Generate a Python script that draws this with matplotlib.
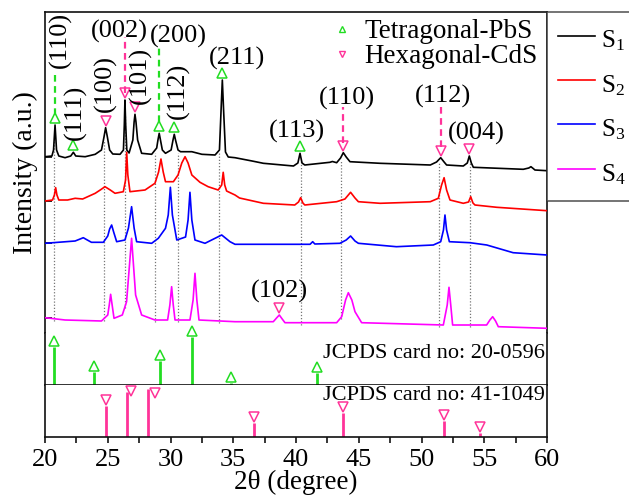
import numpy as np
import matplotlib
matplotlib.use('Agg')
import matplotlib.pyplot as plt
from matplotlib.lines import Line2D
from matplotlib.transforms import offset_copy

plt.rcParams['font.family'] = ['Liberation Serif', 'DejaVu Serif']
plt.rcParams['mathtext.fontset'] = 'custom'
plt.rcParams['mathtext.rm'] = 'Liberation Serif'
plt.rcParams['mathtext.it'] = 'Liberation Serif:italic'

# ---------------- data (stacked intensities, a.u.) ----------------
s1_2theta = [20.0, 20.55, 20.68, 20.8, 20.92, 21.1, 21.6, 22.05, 22.26, 22.45, 23.2, 24.0, 24.5, 24.7,
             24.83, 24.97, 25.15, 25.4, 25.98, 26.25, 26.32, 26.37, 26.43, 26.52, 26.7, 27.0, 27.1, 27.17,
             27.25, 27.38, 27.7, 28.5, 28.9, 29.0, 29.1, 29.2, 29.35, 29.6, 30.05, 30.2, 30.3, 30.4, 30.6,
             30.8, 31.7, 32.5, 33.55, 33.9, 34.03, 34.13, 34.23, 34.38, 34.6, 35.14, 36.5, 37.4, 39.8,
             40.15, 40.32, 40.48, 40.7, 42.7, 42.9, 43.24, 43.55, 43.77, 44.0, 44.3, 46.7, 50.7, 51.2,
             51.53, 51.8, 52.0, 53.33, 53.65, 53.81, 53.97, 54.13, 58.11, 58.55, 58.72, 58.9, 59.04, 60.0]
s1_int = [176.3, 177, 183, 208, 183, 177, 175.3, 177, 180.7, 177, 176.3, 178.7, 183, 196,
          205.3, 196, 183, 179, 178.7, 183, 208, 233, 208, 183, 180, 193, 211, 218.7,
          211, 193, 179.7, 178.7, 185, 193, 199.7, 193, 183, 179.7, 183, 193, 198.7, 193, 183,
          181.3, 181.3, 178.7, 178, 183, 223, 253, 223, 181, 176, 175.3, 172, 169.7, 167,
          170, 179.7, 170, 168, 170.7, 171.5, 170.3, 175, 180.3, 176, 171.3, 169.7, 168, 171,
          175.3, 171, 168, 167, 170, 177, 170, 165.7, 163.7, 165, 166.3, 164.5, 163, 162.3]

s2_2theta = [20.0, 20.6, 20.75, 20.85, 20.95, 21.1, 21.8, 22.4, 23.0, 24.0, 24.4, 24.78, 25.2, 25.58,
             26.24, 26.42, 26.51, 26.6, 26.77, 27.97, 28.76, 29.05, 29.24, 29.42, 29.6, 30.23, 30.6,
             30.9, 31.16, 31.4, 31.7, 32.35, 33.0, 33.8, 34.08, 34.2, 34.32, 34.47, 35.14, 35.5, 37.4,
             39.9, 40.2, 40.37, 40.55, 40.7, 43.24, 43.9, 44.35, 44.7, 44.97, 46.7, 50.7, 51.34, 51.6,
             51.8, 52.0, 52.27, 53.33, 53.75, 53.92, 54.1, 54.26, 56.0, 60.0]
s2_int = [132, 133, 138, 145.3, 138, 133, 133, 134.7, 134, 139.7, 143, 146.3, 143, 139.7,
          141.3, 153, 180.7, 158, 141.3, 143, 149.7, 161, 174, 161, 151.3, 151.3, 158,
          170, 176.3, 170, 158, 150.7, 146.3, 143, 148, 160.7, 148, 142, 138, 135, 129.7,
          128, 131, 135.3, 130, 128, 131.3, 134, 140.7, 135, 131.3, 129.7, 131.3, 134.7, 148,
          155.3, 143, 133, 129.7, 131, 136.3, 130, 128, 125.7, 122.3]

s3_2theta = [20.0, 22.4, 22.8, 23.05, 23.3, 23.7, 24.65, 25.0, 25.15, 25.31, 25.47, 25.71, 26.37, 26.65,
             26.9, 27.1, 27.3, 28.5, 29.03, 29.6, 29.82, 29.99, 30.15, 30.5, 31.2, 31.4, 31.55, 31.7,
             31.95, 32.75, 33.55, 34.08, 34.74, 35.14, 41.12, 41.33, 41.5, 43.5, 44.0, 44.35, 44.7, 44.97,
             48.0, 50.94, 51.53, 51.75, 51.87, 52.0, 52.22, 53.86, 55.2, 57.3, 60.0]
s3_int = [89.7, 92, 94, 95.3, 93.5, 90.7, 90.7, 97, 104, 108, 101, 91.3, 93, 105,
          126.3, 105, 91.3, 89.7, 94.7, 104.7, 118, 145.7, 118, 93, 96, 113, 140.7, 113,
          93, 89.7, 94.7, 98, 91.3, 88.7, 88.7, 91.3, 89, 89.7, 93, 97, 92, 89.7,
          86.3, 88, 91.3, 103, 118, 103, 91.3, 90.3, 88, 80.3, 78]

s4_2theta = [20.0, 21.6, 24.5, 25.0, 25.12, 25.23, 25.35, 25.5, 26.16, 26.5, 26.7, 26.9, 27.05, 27.22,
             27.7, 28.76, 29.77, 29.95, 30.09, 30.22, 30.36, 31.55, 31.8, 31.95, 32.1, 32.27, 35.14,
             38.19, 38.45, 38.67, 38.9, 39.12, 43.24, 43.64, 43.95, 44.17, 44.45, 44.7, 45.23, 51.74,
             52.05, 52.19, 52.33, 52.48, 55.19, 55.45, 55.67, 55.9, 56.12, 60.0]
s4_int = [15.3, 13, 12, 18, 28, 38.7, 28, 14.7, 18, 31.3, 63, 94.7, 68, 38,
          18, 13, 13, 28, 46.3, 28, 13, 13, 33, 59.7, 33, 13, 11.3,
          11.3, 15, 18, 14, 10.3, 10.3, 16.3, 33, 40.3, 33, 21.3, 10.3, 8,
          28, 45.7, 28, 8, 8, 13, 16.3, 12, 6.3, 4.7]

sample_names = ['S$_1$', 'S$_2$', 'S$_3$', 'S$_4$']
sample_colors = ['#000000', '#ff0000', '#0000ff', '#ff00ff']

# phase markers on the patterns
pbs_peaks_s1 = [20.8, 22.26, 29.1, 30.3, 34.13, 40.32]
cds_peaks_s1 = [24.83, 26.37, 27.17, 43.77, 51.53, 53.81]
cds_peaks_s4 = [38.67]
guide_positions = [20.74, 24.7, 26.4, 28.8, 30.6, 33.9, 40.4, 43.6, 51.4, 53.85]

# reference cards
pbs_ref_2theta = [20.74, 23.93, 29.16, 31.69, 34.83, 41.65]
pbs_ref_int = [79, 27, 50, 100, 4, 25]
cds_ref_2theta = [24.86, 26.56, 28.24, 36.68, 43.72, 51.82, 54.66]
cds_ref_int = [64, 93, 100, 29, 50, 33, 8]

# hkl annotations: text, x, y, rotation
hkl_labels = [('(110)', 21.25, 293, 90), ('(111)', 22.4, 221, 90), ('(100)', 24.78, 250, 90),
              ('(002)', 25.9, 302, 0), ('(101)', 27.57, 258, 90), ('(200)', 30.6, 297, 0),
              ('(112)', 30.6, 242, 90), ('(211)', 35.3, 275, 0), ('(113)', 40.1, 202, 0),
              ('(110)', 44.06, 235, 0), ('(112)', 51.7, 237, 0), ('(004)', 54.4, 200, 0),
              ('(102)', 38.7, 42, 0)]
# dashed connectors: x, top, bottom, phase
connectors = [(20.8, 258, 218, 'PbS'), (26.37, 296, 240, 'CdS'), (29.1, 285, 211, 'PbS'),
              (43.77, 226, 190, 'CdS'), (51.53, 230, 186, 'CdS')]

GREEN = '#22dd22'
PINK = '#ff3399'

# ---------------- figure ----------------
fig = plt.figure(figsize=(6.29, 4.96), dpi=100)
W, H = 629, 496
def box(x0, y0, x1, y1):
    return [x0 / W, 1 - y1 / H, (x1 - x0) / W, (y1 - y0) / H]

ax = fig.add_axes(box(45, 12, 547, 333))
axm = fig.add_axes(box(45, 333, 547, 385))
axb = fig.add_axes(box(45, 385, 547, 437))

for a in (ax, axm, axb):
    a.set_xlim(20, 60)
    for s in a.spines.values():
        s.set_linewidth(1.2)
        s.set_color('#111111')

series = [(s1_2theta, s1_int), (s2_2theta, s2_int), (s3_2theta, s3_int), (s4_2theta, s4_int)]
lines = []
for (tt, ii), c, n in zip(series, sample_colors, sample_names):
    ln, = ax.plot(tt, ii, color=c, lw=1.2, label=n, zorder=3)
    lines.append(ln)

ax.set_ylim(0, 321)
ax.spines['bottom'].set_visible(False)
ax.tick_params(axis='x', bottom=False, labelbottom=False)
starts = [ii[0] for _, ii in series]
order = np.argsort(starts)
ax.set_yticks([starts[i] for i in order])
ax.tick_params(axis='y', direction='in', length=5, width=1.2, labelleft=False)
for tk, i in zip(ax.yaxis.get_major_ticks(), order):
    tk.tick1line.set_color(sample_colors[i])

# guide lines
s1t, s1i = np.array(s1_2theta), np.array(s1_int)
s4t, s4i = np.array(s4_2theta), np.array(s4_int)
for g in guide_positions:
    ax.plot([g, g], [np.interp(g, s4t, s4i) - 2, np.interp(g, s1t, s1i) - 3],
            ls=(0, (1, 1.5)), color='#777777', lw=0.9, zorder=1)

# phase markers
up = offset_copy(ax.transData, fig=fig, x=0, y=5, units='points')
for p in pbs_peaks_s1:
    ax.plot([p], [np.interp(p, s1t, s1i)], marker='^', ls='none', mfc='none', mec=GREEN,
            ms=7, mew=1.1, transform=up, zorder=4, clip_on=False)
for p in cds_peaks_s1:
    ax.plot([p], [np.interp(p, s1t, s1i)], marker='v', ls='none', mfc='none', mec=PINK,
            ms=7, mew=1.1, transform=up, zorder=4, clip_on=False)
for p in cds_peaks_s4:
    ax.plot([p], [np.interp(p, s4t, s4i)], marker='v', ls='none', mfc='none', mec=PINK,
            ms=7, mew=1.1, transform=up, zorder=4, clip_on=False)

for x, ytop, ybot, ph in connectors:
    ax.plot([x, x], [ybot, ytop], ls=(0, (3, 2)), lw=1.6, color=GREEN if ph == 'PbS' else PINK, zorder=2)

for txt, x, y, rot in hkl_labels:
    ax.text(x, y, txt, rotation=rot, ha='center', va='center', fontsize=19, zorder=5)

ax.set_ylabel('Intensity (a.u.)', fontsize=20, labelpad=5)

# phase legend inside
ph_handles = [Line2D([], [], marker='^', ls='none', mfc='none', mec=GREEN, ms=5, mew=1),
              Line2D([], [], marker='v', ls='none', mfc='none', mec=PINK, ms=5, mew=1)]
leg1 = ax.legend(ph_handles, ['Tetragonal-PbS', 'Hexagonal-CdS'], loc='upper right',
                 bbox_to_anchor=(0.982, 0.978), frameon=False,
                 fontsize=19.5, handlelength=0.6, handletextpad=0.55, labelspacing=0.0,
                 borderaxespad=0, borderpad=0)
ax.add_artist(leg1)

# sample legend outside
leg2 = ax.legend(lines, sample_names, loc='upper left', bbox_to_anchor=(1.0, 1.0), borderaxespad=0,
                 fontsize=18, frameon=True, fancybox=False, edgecolor='#333333', handlelength=1.45,
                 handleheight=1.65, handletextpad=0.25, borderpad=0.45, labelspacing=0.46)
leg2.get_frame().set_linewidth(1.2)

# middle panel: PbS card
axm.set_ylim(0, 108.3)
axm.spines['top'].set_visible(False)
axm.tick_params(bottom=False, labelbottom=False, left=False, labelleft=False)
axm.vlines(pbs_ref_2theta, 0, pbs_ref_int, color=GREEN, lw=2)
upm = offset_copy(axm.transData, fig=fig, x=0, y=4.3, units='points')
axm.plot(pbs_ref_2theta, pbs_ref_int, marker='^', ls='none', mfc='none', mec=GREEN, ms=7.5, mew=1.1,
         transform=upm, clip_on=False, zorder=4)
axm.text(0.995, 0.615, 'JCPDS card no: 20-0596', transform=axm.transAxes, ha='right', va='center', fontsize=16)

# bottom panel: CdS card
axb.set_ylim(0, 108.3)
axb.spines['top'].set_visible(False)
axb.tick_params(left=False, labelleft=False)
axb.vlines(cds_ref_2theta, 0, cds_ref_int, color=PINK, lw=2)
cds_mark_dx = [0, 3, 5, 0, 0, 0, 0]
cds_mark_dy = [4.3, 0.7, -3, 4.3, 4.3, 4.3, 4.3]
for x, h, dx, dy in zip(cds_ref_2theta, cds_ref_int, cds_mark_dx, cds_mark_dy):
    tr = offset_copy(axb.transData, fig=fig, x=dx, y=dy, units='points')
    axb.plot([x], [h], marker='v', ls='none', mfc='none', mec=PINK, ms=7.5, mew=1.1,
             transform=tr, clip_on=False, zorder=4)
axb.text(0.995, 0.8, 'JCPDS card no: 41-1049', transform=axb.transAxes, ha='right', va='center', fontsize=16)

axb.set_xticks(np.arange(20, 61, 5))
axb.set_xticks(np.arange(22.5, 60, 5), minor=True)
axb.tick_params(axis='x', which='both', direction='out', length=4, width=1.1, labelsize=19, pad=5)
axb.set_xlabel('2θ (degree)', fontsize=19.5, labelpad=-1)

fig.savefig('out.png', dpi=100)
